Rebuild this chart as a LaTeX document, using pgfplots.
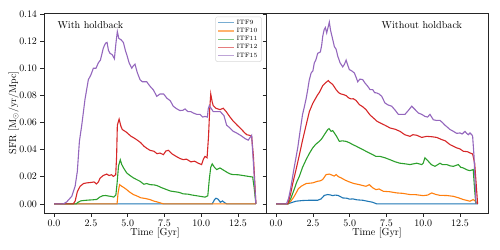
\documentclass[border=0pt]{standalone}
\usepackage{pgfplots}
\pgfplotsset{compat=1.18}
\definecolor{cA}{HTML}{1F77B4}
\definecolor{cB}{HTML}{FF7F0E}
\definecolor{cC}{HTML}{2CA02C}
\definecolor{cD}{HTML}{D62728}
\definecolor{cE}{HTML}{9467BD}
\pgfplotsset{
  myaxis/.style={
    scale only axis, width=222bp, height=200bp, anchor=south west,
    xmin=-0.686, xmax=14.406, ymin=-0.0067, ymax=0.1407,
    xtick={0,2.5,5,7.5,10,12.5},
    ytick={0,0.02,0.04,0.06,0.08,0.1,0.12,0.14},
    scaled y ticks=false, scaled x ticks=false,
    axis line style={line width=0.7bp, black!85},
    tick align=outside, major tick length=3.5bp,
    tick style={line width=0.7bp, black!85},
    tick pos=left,
    tick label style={font=\fontsize{10.2}{12}\selectfont},
    label style={font=\fontsize{10.2}{12}\selectfont},
    x tick label style={/pgf/number format/.cd, fixed, fixed zerofill, precision=1},
    y tick label style={/pgf/number format/.cd, fixed, fixed zerofill, precision=2},
    xlabel={Time [Gyr]},
    xlabel style={at={(axis description cs:0.5,-0.1015)}, anchor=center},
    every axis plot/.append style={line width=1.1bp},
    legend image code/.code={\draw[#1, opacity=0.6, line width=1.3bp] (0cm,0cm) -- (0.55cm,0cm);},
  }
}
\begin{document}
\begin{tikzpicture}
\useasboundingbox (0,0) rectangle (500bp,-250bp);
% ---------------- left panel ----------------
\begin{axis}[myaxis, at={(44bp,-213bp)},
  ylabel={SFR [$\mathrm{M}_\odot/\mathrm{yr}/\mathrm{Mpc}$]},
  ylabel style={at={(axis description cs:-0.137,0.5)}, anchor=center},
  legend cell align=left,
  legend style={at={(rel axis cs:0.98,0.982)}, anchor=north east,
    font=\fontsize{6.3}{7.5}\selectfont, draw=black!15, rounded corners=1.5pt,
    inner xsep=2pt, inner ysep=1pt, row sep=-1.5pt, fill=white, fill opacity=0.8, text opacity=1}]
\addplot[cA] coordinates {(0,0)(10.75,0)(10.9,0.003)(11.0,0.0042)(11.15,0.0035)(11.3,0.0012)(11.45,0.0022)(11.6,0.0008)(11.75,0)(13.72,0)};
\addlegendentry{ITF9}
\addplot[cB] coordinates {(0,0)(4.28,0)(4.35,0.008)(4.45,0.0142)(4.6,0.013)(4.75,0.012)(4.94,0.0105)(5.1,0.009)(5.39,0.0069)(5.6,0.006)(5.9,0.0045)(6.2,0.004)(6.52,0.0032)(6.8,0.002)(7.0,0.0015)(7.2,0.0008)(7.45,0)(13.72,0)};
\addlegendentry{ITF10}
\addplot[cC] coordinates {(0,0)(1.5,0)(1.6,0.001)(1.8,0.0022)(2.0,0.0025)(2.3,0.0028)(2.6,0.003)(2.9,0.0033)(3.1,0.005)(3.3,0.006)(3.5,0.0062)(3.7,0.0058)(3.9,0.0055)(4.05,0.005)(4.2,0.0065)(4.28,0.015)(4.38,0.028)(4.5,0.0325)(4.6,0.029)(4.75,0.026)(4.94,0.0228)(5.15,0.021)(5.39,0.0192)(5.6,0.018)(5.84,0.0167)(6.1,0.0145)(6.3,0.015)(6.52,0.0142)(6.8,0.014)(7.0,0.0135)(7.3,0.012)(7.66,0.0105)(7.9,0.0095)(8.2,0.009)(8.5,0.0085)(8.78,0.0074)(9.1,0.0072)(9.4,0.0065)(9.7,0.006)(9.92,0.0056)(10.26,0.005)(10.45,0.006)(10.55,0.018)(10.65,0.027)(10.75,0.0295)(10.9,0.027)(11.05,0.0253)(11.28,0.0265)(11.5,0.025)(11.8,0.023)(12.0,0.022)(12.18,0.0216)(12.5,0.0215)(12.8,0.021)(13.2,0.0203)(13.5,0.0198)(13.6,0.012)(13.72,0)};
\addlegendentry{ITF11}
\addplot[cD] coordinates {(0,0)(1.3,0)(1.43,0.002)(1.58,0.009)(1.77,0.013)(2.0,0.015)(2.22,0.0155)(2.5,0.0158)(2.72,0.0162)(2.88,0.0147)(3.0,0.016)(3.13,0.019)(3.35,0.021)(3.58,0.022)(3.74,0.0209)(3.9,0.0215)(4.03,0.0203)(4.19,0.0215)(4.25,0.035)(4.3,0.058)(4.42,0.0625)(4.55,0.057)(4.64,0.0548)(4.9,0.053)(5.21,0.05)(5.45,0.0485)(5.66,0.047)(5.9,0.045)(6.11,0.0425)(6.3,0.041)(6.52,0.0395)(6.79,0.0388)(7.0,0.037)(7.2,0.0375)(7.43,0.0363)(7.6,0.039)(7.77,0.0395)(8.0,0.037)(8.3,0.035)(8.55,0.0335)(8.78,0.0326)(9.0,0.033)(9.3,0.031)(9.55,0.0315)(9.8,0.030)(10.03,0.029)(10.15,0.033)(10.26,0.035)(10.4,0.034)(10.5,0.05)(10.58,0.07)(10.65,0.081)(10.75,0.075)(10.82,0.0724)(11.0,0.0705)(11.28,0.0695)(11.5,0.0705)(11.7,0.068)(11.96,0.064)(12.18,0.061)(12.45,0.058)(12.75,0.0548)(12.95,0.0525)(13.1,0.051)(13.3,0.0505)(13.43,0.0498)(13.55,0.035)(13.72,0)};
\addlegendentry{ITF12}
\addplot[cE] coordinates {(0,0)(0.63,0)(0.86,0.0015)(1.2,0.0056)(1.43,0.013)(1.58,0.024)(1.72,0.046)(1.88,0.058)(2.1,0.077)(2.33,0.0916)(2.5,0.095)(2.67,0.100)(2.85,0.100)(3.01,0.104)(3.15,0.106)(3.35,0.115)(3.5,0.1185)(3.6,0.119)(3.7,0.113)(3.8,0.111)(3.95,0.110)(4.1,0.107)(4.2,0.118)(4.3,0.127)(4.4,0.122)(4.55,0.121)(4.71,0.119)(4.85,0.113)(4.94,0.110)(5.1,0.104)(5.28,0.100)(5.4,0.102)(5.5,0.103)(5.65,0.097)(5.84,0.0916)(6.0,0.090)(6.3,0.090)(6.5,0.087)(6.75,0.084)(6.98,0.0793)(7.2,0.081)(7.45,0.081)(7.66,0.078)(7.9,0.076)(8.1,0.072)(8.35,0.070)(8.56,0.0688)(8.75,0.069)(8.9,0.070)(9.1,0.068)(9.3,0.068)(9.46,0.067)(9.7,0.066)(9.92,0.066)(10.1,0.064)(10.26,0.0645)(10.42,0.064)(10.48,0.07)(10.55,0.0724)(10.7,0.070)(10.82,0.068)(11.05,0.068)(11.3,0.068)(11.55,0.065)(11.73,0.058)(11.95,0.056)(12.18,0.0535)(12.45,0.052)(12.75,0.050)(13.0,0.048)(13.2,0.047)(13.3,0.0486)(13.43,0.0506)(13.55,0.03)(13.72,0)};
\addlegendentry{ITF15}
\node[anchor=west, font=\fontsize{10.2}{12}\selectfont] at (rel axis cs:0.045,0.94) {With holdback};
\end{axis}
% ---------------- right panel ----------------
\begin{axis}[myaxis, at={(266bp,-213bp)}, yticklabels={}]
\addplot[cA] coordinates {(0,0)(0.8,0)(1.0,0.0008)(1.36,0.002)(1.8,0.0025)(2.26,0.0027)(2.83,0.0027)(3.06,0.0037)(3.28,0.0063)(3.51,0.0069)(3.7,0.0066)(3.85,0.0061)(4.0,0.0065)(4.19,0.0063)(4.35,0.0055)(4.53,0.0044)(4.8,0.0042)(5.0,0.0035)(5.21,0.0037)(5.5,0.003)(5.89,0.0027)(6.2,0.002)(6.57,0.0012)(6.84,0)(13.72,0)};
\addplot[cB] coordinates {(0,0)(0.8,0)(1.0,0.002)(1.2,0.005)(1.36,0.008)(1.5,0.011)(1.7,0.013)(2.04,0.015)(2.49,0.0155)(2.83,0.0167)(3.0,0.017)(3.17,0.018)(3.4,0.0216)(3.62,0.022)(3.85,0.021)(3.95,0.0205)(4.08,0.0216)(4.25,0.020)(4.42,0.0192)(4.7,0.0175)(4.98,0.0162)(5.3,0.015)(5.66,0.0142)(5.9,0.0135)(6.11,0.013)(6.34,0.0142)(6.55,0.012)(6.79,0.0105)(7.0,0.011)(7.29,0.0093)(7.7,0.009)(8.2,0.0081)(8.6,0.0078)(9.1,0.0069)(9.5,0.0068)(10.0,0.0061)(10.3,0.0065)(10.58,0.0081)(10.85,0.007)(11.14,0.0063)(11.6,0.0062)(12.05,0.0056)(12.4,0.0045)(12.73,0.0032)(13.0,0.0025)(13.18,0.002)(13.4,0.0032)(13.55,0.002)(13.7,0)};
\addplot[cC] coordinates {(0,0)(0.8,0)(1.0,0.004)(1.24,0.011)(1.4,0.016)(1.58,0.0203)(1.8,0.027)(2.04,0.0326)(2.25,0.037)(2.49,0.0413)(2.7,0.044)(2.94,0.0461)(3.1,0.048)(3.28,0.051)(3.4,0.053)(3.51,0.0548)(3.6,0.0555)(3.74,0.0535)(3.85,0.054)(3.96,0.0523)(4.1,0.050)(4.3,0.0461)(4.5,0.0465)(4.76,0.0461)(5.0,0.045)(5.21,0.0437)(5.45,0.0425)(5.66,0.0413)(5.9,0.040)(6.11,0.0388)(6.35,0.0375)(6.57,0.0363)(6.79,0.035)(7.07,0.035)(7.4,0.034)(7.74,0.0326)(8.1,0.031)(8.42,0.030)(8.8,0.0295)(9.1,0.029)(9.56,0.030)(9.9,0.029)(10.0,0.030)(10.12,0.034)(10.35,0.0314)(10.55,0.029)(10.8,0.0277)(11.0,0.029)(11.14,0.030)(11.3,0.029)(11.6,0.029)(11.85,0.028)(12.05,0.0277)(12.39,0.029)(12.55,0.027)(12.73,0.0265)(13.0,0.025)(13.18,0.0245)(13.4,0.0253)(13.5,0.01)(13.58,0)};
\addplot[cD] coordinates {(0,0)(0.8,0)(1.0,0.008)(1.13,0.015)(1.35,0.025)(1.58,0.036)(1.8,0.047)(2.04,0.058)(2.26,0.068)(2.49,0.074)(2.67,0.0775)(2.8,0.080)(2.94,0.0822)(3.17,0.0872)(3.4,0.0896)(3.55,0.0909)(3.62,0.090)(3.85,0.088)(4.08,0.0842)(4.25,0.082)(4.42,0.081)(4.6,0.0805)(4.76,0.0798)(4.95,0.078)(5.1,0.0774)(5.25,0.0775)(5.43,0.0763)(5.66,0.0732)(5.9,0.0715)(6.11,0.0695)(6.39,0.0655)(6.61,0.0634)(6.85,0.061)(7.07,0.0597)(7.4,0.058)(7.74,0.056)(8.1,0.055)(8.42,0.0535)(8.75,0.051)(9.1,0.0498)(9.3,0.051)(9.56,0.0506)(9.9,0.049)(10.24,0.0498)(10.6,0.0495)(10.92,0.049)(11.26,0.0474)(11.5,0.0465)(11.82,0.0437)(12.05,0.0425)(12.28,0.0413)(12.5,0.0405)(12.73,0.0388)(13.0,0.0385)(13.18,0.0376)(13.36,0.0368)(13.5,0.03)(13.7,0)};
\addplot[cE] coordinates {(0,0)(0.7,0)(0.85,0.004)(1.0,0.012)(1.2,0.025)(1.47,0.0413)(1.65,0.055)(1.8,0.066)(1.92,0.0715)(2.05,0.078)(2.15,0.0842)(2.25,0.091)(2.38,0.0965)(2.5,0.098)(2.6,0.104)(2.7,0.106)(2.83,0.111)(3.01,0.112)(3.1,0.117)(3.17,0.1235)(3.27,0.1285)(3.35,0.130)(3.44,0.126)(3.53,0.130)(3.62,0.134)(3.7,0.128)(3.8,0.1235)(3.96,0.116)(4.08,0.114)(4.19,0.109)(4.35,0.104)(4.53,0.101)(4.65,0.103)(4.76,0.106)(4.88,0.102)(4.98,0.099)(5.15,0.098)(5.32,0.0965)(5.45,0.093)(5.55,0.090)(5.7,0.092)(5.89,0.0916)(6.05,0.089)(6.23,0.0867)(6.39,0.0842)(6.57,0.0842)(6.7,0.082)(6.84,0.0818)(7.0,0.081)(7.18,0.0793)(7.4,0.0744)(7.6,0.073)(7.86,0.072)(8.1,0.069)(8.31,0.066)(8.55,0.066)(8.76,0.066)(9.0,0.069)(9.22,0.072)(9.45,0.0695)(9.67,0.067)(9.9,0.066)(10.12,0.0645)(10.3,0.064)(10.46,0.066)(10.69,0.062)(10.92,0.0615)(11.14,0.0616)(11.3,0.060)(11.48,0.058)(11.6,0.057)(11.8,0.055)(12.05,0.0535)(12.28,0.052)(12.5,0.0523)(12.65,0.0515)(12.84,0.0535)(12.95,0.052)(13.07,0.051)(13.18,0.0523)(13.3,0.051)(13.36,0.050)(13.45,0.036)(13.59,0)};
\node[anchor=west, font=\fontsize{10.2}{12}\selectfont] at (rel axis cs:0.505,0.94) {Without holdback};
\end{axis}
\end{tikzpicture}
\end{document}
